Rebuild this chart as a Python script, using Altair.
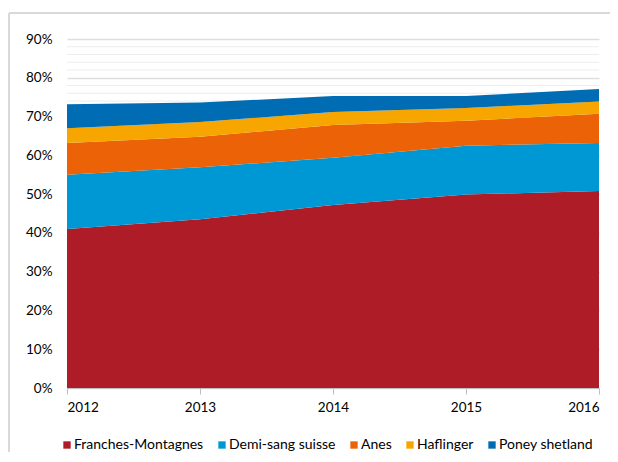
import altair as alt
import pandas as pd

years = [2012, 2013, 2014, 2015, 2016]
series = ["Franches-Montagnes", "Demi-sang suisse", "Anes", "Haflinger", "Poney shetland"]
colors = ["#AE1C28", "#0098D4", "#EC6206", "#F7A600", "#006CB4"]
franches = [41.0, 43.5, 47.2, 49.9, 50.8]
demisang = [14.0, 13.4, 12.2, 12.6, 12.4]
anes = [8.2, 7.9, 8.4, 6.4, 7.5]
haflinger = [3.8, 3.8, 3.4, 3.3, 3.2]
poney = [6.2, 5.0, 4.1, 3.1, 3.2]
major_ticks = [0, 0.1, 0.2, 0.3, 0.4, 0.5, 0.6, 0.7, 0.8, 0.9]
minor_ticks = [i / 100 for i in range(2, 90, 2) if i % 10 != 0]

rows = []
for k, (name, vals) in enumerate(zip(series, [franches, demisang, anes, haflinger, poney])):
    for y, v in zip(years, vals):
        rows.append({"year": y, "series": name, "value": v / 100, "ord": k})
df = pd.DataFrame(rows)
minor_df = pd.DataFrame({"v": minor_ticks})

FONT = "Lato"

y_scale = alt.Scale(domain=[0, 0.9], nice=False)
y_axis = alt.Axis(values=major_ticks, format=".0%", title=None,
                  grid=True, gridColor="#DEDEDE", gridWidth=1.6,
                  domain=False, ticks=False, labelPadding=15,
                  labelFont=FONT, labelFontSize=13.5, labelColor="#000000")

one = pd.DataFrame({"a": [0]})
frame_top = alt.Chart(one).mark_rule(color="#D9D9D9", strokeWidth=2).encode(
    x=alt.value(-58), x2=alt.value(560), y=alt.value(-26))
frame_left = alt.Chart(one).mark_rule(color="#D9D9D9", strokeWidth=2).encode(
    x=alt.value(-58), y=alt.value(-26), y2=alt.value(430))

minor = alt.Chart(minor_df).mark_rule(color="#EDEDED", strokeWidth=1).encode(
    y=alt.Y("v:Q", scale=y_scale, axis=y_axis)
)

area = alt.Chart(df).mark_area(opacity=1).encode(
    x=alt.X("year:Q", scale=alt.Scale(domain=[2012, 2016], nice=False, zero=False),
            axis=alt.Axis(values=years, format="d", title=None, grid=False,
                          domain=True, domainColor="#BFBFBF", domainWidth=1,
                          ticks=True, tickColor="#BFBFBF", tickSize=6,
                          labelFont=FONT, labelFontSize=13.5, labelColor="#000000",
                          labelPadding=6)),
    y=alt.Y("value:Q", stack="zero", scale=y_scale, axis=y_axis),
    color=alt.Color("series:N", scale=alt.Scale(domain=series, range=colors),
                    legend=alt.Legend(orient="none", legendX=-7, legendY=399,
                                      direction="horizontal", title=None,
                                      padding=0,
                                      symbolType="square", symbolSize=54,
                                      symbolStrokeWidth=0, labelFont=FONT,
                                      labelFontSize=14, labelColor="#000000",
                                      columnPadding=11, labelOffset=0)),
    order=alt.Order("ord:Q", sort="ascending"),
)

chart = alt.layer(frame_top, frame_left, minor, area).properties(
    width=532, height=349,
    autosize=alt.AutoSizeParams(type="none"),
    padding={"left": 59, "top": 31, "right": 11, "bottom": 64},
).configure_view(stroke=None)

chart.save("out.html", embed_options={"renderer": "svg", "actions": False})
